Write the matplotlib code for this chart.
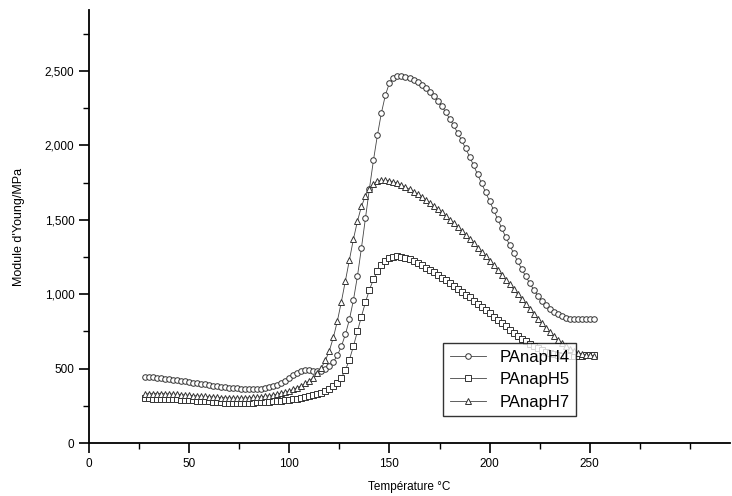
import matplotlib.pyplot as plt
from matplotlib.ticker import FuncFormatter, MultipleLocator

plt.rcParams['font.family'] = ['Liberation Sans', 'DejaVu Sans']

# temperatures (°C)
temp = list(range(28, 253, 2))

h4 = [445, 443, 441, 438, 435, 432, 429, 426, 422, 418, 414, 410, 406, 402, 398, 394,
      390, 386, 382, 378, 375, 372, 369, 367, 365, 363, 362, 362, 363, 365, 368, 373,
      380, 390, 403, 420, 440, 458, 473, 484, 490, 490, 486, 482, 484, 495, 515, 545,
      590, 650, 730, 830, 960, 1120, 1310, 1510, 1710, 1900, 2070, 2220, 2340, 2420,
      2455, 2465, 2465, 2460, 2452, 2440, 2425, 2405, 2385, 2360, 2332, 2300, 2265,
      2225, 2180, 2135, 2085, 2035, 1980, 1925, 1865, 1805, 1745, 1685, 1625, 1565,
      1505, 1445, 1385, 1330, 1275, 1220, 1170, 1120, 1075, 1030, 990, 955, 925, 900,
      880, 865, 852, 843, 836, 832, 830, 830, 832, 834, 836]

h5 = [300, 300, 299, 298, 297, 296, 295, 294, 293, 292, 290, 289, 287, 285, 283, 281,
      279, 277, 275, 273, 272, 271, 270, 270, 270, 270, 271, 272, 273, 274, 275, 277,
      279, 281, 284, 287, 290, 294, 298, 303, 308, 314, 320, 328, 337, 348, 362, 380,
      405, 440, 490, 560, 650, 750, 850, 945, 1030, 1100, 1155, 1195, 1225, 1243,
      1252, 1255, 1252, 1245, 1235, 1222, 1208, 1193, 1178, 1162, 1146, 1129, 1112,
      1094, 1076, 1057, 1038, 1018, 998, 978, 957, 936, 915, 893, 871, 849, 827, 805,
      783, 762, 741, 721, 702, 684, 667, 651, 637, 624, 613, 604, 597, 592, 588, 586,
      585, 585, 586, 588, 590, 592, 594]

h7 = [330, 331, 332, 332, 332, 331, 330, 329, 327, 325, 323, 321, 319, 317, 315, 313,
      311, 309, 307, 305, 304, 303, 302, 302, 302, 303, 304, 306, 308, 311, 314, 318,
      323, 328, 335, 342, 350, 360, 372, 385, 400, 418, 440, 468, 505, 555, 620, 710,
      820, 950, 1090, 1230, 1370, 1490, 1590, 1660, 1710, 1740, 1758, 1765, 1765, 1762,
      1755, 1745, 1733, 1720, 1705, 1690, 1673, 1655, 1636, 1616, 1595, 1573, 1550,
      1526, 1502, 1477, 1451, 1425, 1398, 1370, 1342, 1313, 1284, 1254, 1224, 1193,
      1162, 1130, 1098, 1066, 1033, 1000, 967, 934, 901, 868, 836, 805, 775, 746, 719,
      694, 672, 652, 635, 620, 608, 598, 592, 589, 587]

labels = ['PAnapH4', 'PAnapH5', 'PAnapH7']
markers = ['o', 's', '^']

fig = plt.figure(figsize=(7.32, 4.96), dpi=100)
ax = fig.add_axes([89 / 732, 1 - 443 / 496, (730 - 89) / 732, (443 - 10) / 496])

for vals, lab, m in zip([h4, h5, h7], labels, markers):
    ax.plot(temp, vals, color='#444444', lw=0.6, marker=m, ms=4, mfc='white',
            mec='#333333', mew=0.7, label=lab)

ax.set_xlim(0, 320)
ax.set_ylim(0, 2910)
ax.spines['top'].set_visible(False)
ax.spines['right'].set_visible(False)
for s in ['left', 'bottom']:
    ax.spines[s].set_linewidth(1.3)

ax.xaxis.set_major_locator(MultipleLocator(50))
ax.xaxis.set_minor_locator(MultipleLocator(25))
ax.set_xticks([0, 50, 100, 150, 200, 250])
ax.yaxis.set_major_locator(MultipleLocator(500))
ax.yaxis.set_minor_locator(MultipleLocator(250))
ax.yaxis.set_major_formatter(FuncFormatter(lambda v, p: f'{int(v):,}'))
ax.tick_params(which='major', direction='out', length=7, width=1.2, labelsize=8.5)
ax.tick_params(which='minor', direction='out', length=4, width=1.0)

ax.set_xlabel('Température °C', fontsize=8.5, labelpad=8)
ax.set_ylabel("Module d'Young/MPa", fontsize=9, labelpad=14)

leg = ax.legend(loc='upper left', bbox_to_anchor=(443 / 732, 1 - 343 / 496),
                bbox_transform=fig.transFigure, fontsize=12, frameon=True,
                fancybox=False, edgecolor='black', handlelength=2.2,
                borderpad=0.4, labelspacing=0.45, borderaxespad=0)
leg.get_frame().set_linewidth(1.0)

fig.savefig('out.png', dpi=100)
